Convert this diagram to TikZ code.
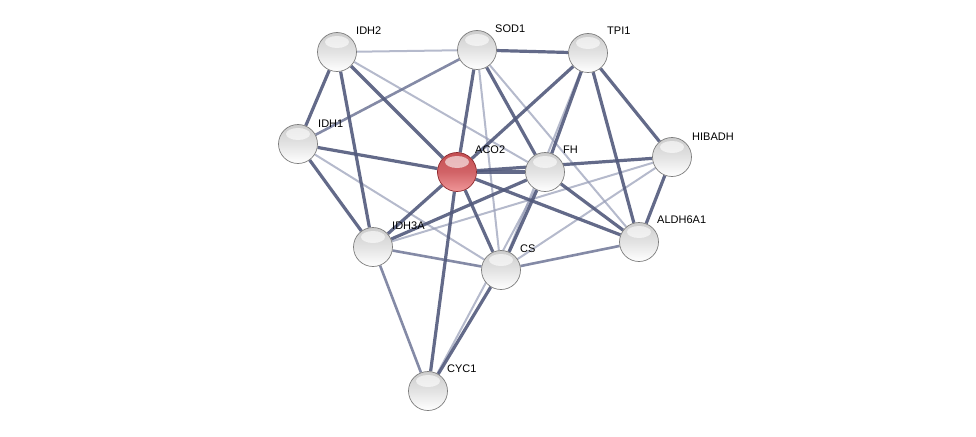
\documentclass[tikz,border=0pt]{standalone}
\usepackage{fontspec}
\setmainfont{Liberation Sans}
\usetikzlibrary{backgrounds}
\definecolor{edgedark}{RGB}{82,90,124}
\definecolor{edgemid}{RGB}{110,118,150}
\definecolor{edgelight}{RGB}{150,156,182}
\definecolor{ballrim}{RGB}{125,125,125}
\definecolor{redtop}{RGB}{196,78,82}
\definecolor{redbot}{RGB}{240,150,152}
\definecolor{redrim}{RGB}{140,40,45}
\tikzset{
  prot/.style={circle, minimum size=39pt, inner sep=0pt, draw=ballrim, line width=0.7pt,
    top color=gray!40, bottom color=white, middle color=gray!22,
    path picture={\fill[white,opacity=0.6] ([yshift=10pt]path picture bounding box.center) ellipse (12pt and 6pt);}},
  seed/.style={prot, draw=redrim, top color=redtop, bottom color=redbot, middle color=redtop!70!redbot},
  plabel/.style={anchor=base west, inner sep=0pt, font=\fontsize{11}{13}\selectfont},
  sdark/.style={draw=edgedark, line width=3.2pt, opacity=0.9},
  smid/.style={draw=edgemid, line width=2.6pt, opacity=0.85},
  slight/.style={draw=edgelight, line width=2pt, opacity=0.7},
}
\begin{document}
\begin{tikzpicture}[x=1pt,y=-1pt]
\useasboundingbox (0,0) rectangle (976,436);
\node[prot] (IDH2) at (337,52) {};
\node[prot] (SOD1) at (477,50) {};
\node[prot] (TPI1) at (588,53) {};
\node[prot] (IDH1) at (298,144) {};
\node[seed] (ACO2) at (457,172) {};
\node[prot] (FH) at (545,172) {};
\node[prot] (HIBADH) at (672,157) {};
\node[prot] (IDH3A) at (373,247) {};
\node[prot] (CS) at (501,270) {};
\node[prot] (ALDH6A1) at (639,242) {};
\node[prot] (CYC1) at (428,391) {};

\begin{pgfonlayer}{background}
% light edges
\draw[slight] (IDH2) -- (SOD1);
\draw[slight] (IDH2) -- (FH);
\draw[slight] (SOD1) -- (CS);
\draw[slight] (SOD1) -- (ALDH6A1);
\draw[slight] (IDH1) -- (CS);
\draw[slight] (IDH3A) -- (HIBADH);
\draw[slight] (CS) -- (HIBADH);
\draw[slight] (TPI1) -- (CS);
\draw[slight] (FH) -- (CYC1);
% medium edges
\draw[smid] (SOD1) -- (IDH1);
\draw[smid] (IDH3A) -- (CS);
\draw[smid] (IDH3A) -- (CYC1);
\draw[smid] (CS) -- (ALDH6A1);
% dark edges
\draw[sdark] (IDH2) -- (IDH1);
\draw[sdark] (IDH2) -- (ACO2);
\draw[sdark] (IDH2) -- (IDH3A);
\draw[sdark] (SOD1) -- (TPI1);
\draw[sdark] (SOD1) -- (ACO2);
\draw[sdark] (SOD1) -- (FH);
\draw[sdark] (TPI1) -- (ACO2);
\draw[sdark] (TPI1) -- (FH);
\draw[sdark] (TPI1) -- (ALDH6A1);
\draw[sdark] (TPI1) -- (HIBADH);
\draw[sdark] (IDH1) -- (ACO2);
\draw[sdark] (IDH1) -- (IDH3A);
\draw[sdark] (ACO2) -- (FH);
\draw[sdark] (ACO2) -- (HIBADH);
\draw[sdark] (ACO2) -- (ALDH6A1);
\draw[sdark] (ACO2) -- (IDH3A);
\draw[sdark] (ACO2) -- (CS);
\draw[sdark] (ACO2) -- (CYC1);
\draw[sdark] (FH) -- (IDH3A);
\draw[sdark] (FH) -- (CS);
\draw[sdark] (FH) -- (ALDH6A1);
\draw[sdark] (HIBADH) -- (ALDH6A1);
\draw[sdark] (CS) -- (CYC1);
\end{pgfonlayer}

\node[plabel] (lIDH2) at ([xshift=19pt,yshift=17pt]IDH2.center) {IDH2};
\node[plabel] (lSOD1) at ([xshift=18pt,yshift=17pt]SOD1.center) {SOD1};
\node[plabel] (lTPI1) at ([xshift=19pt,yshift=18pt]TPI1.center) {TPI1};
\node[plabel] (lIDH1) at ([xshift=20pt,yshift=17pt]IDH1.center) {IDH1};
\node[plabel] (lACO2) at ([xshift=18pt,yshift=19pt]ACO2.center) {ACO2};
\node[plabel] (lFH) at ([xshift=18pt,yshift=19pt]FH.center) {FH};
\node[plabel] (lHIBADH) at ([xshift=20pt,yshift=17pt]HIBADH.center) {HIBADH};
\node[plabel] (lIDH3A) at ([xshift=19pt,yshift=18pt]IDH3A.center) {IDH3A};
\node[plabel] (lCS) at ([xshift=19pt,yshift=18pt]CS.center) {CS};
\node[plabel] (lALDH6A1) at ([xshift=18pt,yshift=19pt]ALDH6A1.center) {ALDH6A1};
\node[plabel] (lCYC1) at ([xshift=19pt,yshift=19pt]CYC1.center) {CYC1};
\end{tikzpicture}
\end{document}
